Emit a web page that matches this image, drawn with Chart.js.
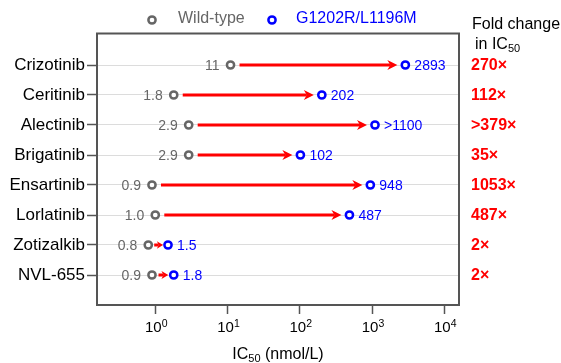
<!DOCTYPE html>
<html>
<head>
<meta charset="utf-8">
<script src="https://cdn.jsdelivr.net/npm/chart.js@4/dist/chart.umd.min.js"></script>
<style>
  html, body { margin: 0; padding: 0; background: #fff; }
  #wrap { width: 561px; height: 363px; }
</style>
</head>
<body>
<div id="wrap"><canvas id="c" width="561" height="363"></canvas></div>
<script>
// IC50 values (nmol/L) for each ALK inhibitor
const drugs = ['Crizotinib', 'Ceritinib', 'Alectinib', 'Brigatinib', 'Ensartinib', 'Lorlatinib', 'Zotizalkib', 'NVL-655'];
const wildType = [11, 1.8, 2.9, 2.9, 0.9, 1.0, 0.8, 0.9];
const mutant = [2893, 202, 1100, 102, 948, 487, 1.5, 1.8];
const wildTypeLabels = ['11', '1.8', '2.9', '2.9', '0.9', '1.0', '0.8', '0.9'];
const mutantLabels = ['2893', '202', '>1100', '102', '948', '487', '1.5', '1.8'];
const foldChange = ['270×', '112×', '>379×', '35×', '1053×', '487×', '2×', '2×'];
const xTicks = [1, 10, 100, 1000, 10000];
const xTickExponents = ['0', '1', '2', '3', '4'];
const seriesNames = ['Wild-type', 'G1202R/L1196M'];

const FONT = '"Liberation Sans", Arial, Helvetica, sans-serif';
const GRAY = '#666666';
const BLUE = '#0000ff';
const RED = '#ff0000';
const AXIS = '#555555';

Chart.defaults.font.family = FONT;

function drawArrow(ctx, x1, x2, y) {
  const len = x2 - x1;
  const head = Math.min(10, len * 0.7);
  const half = Math.min(5, head * 0.6);
  const notch = head * 0.3;
  ctx.save();
  ctx.strokeStyle = RED;
  ctx.fillStyle = RED;
  ctx.lineWidth = 3;
  ctx.beginPath();
  ctx.moveTo(x1, y);
  ctx.lineTo(x2 - head + notch, y);
  ctx.stroke();
  ctx.beginPath();
  ctx.moveTo(x2, y);
  ctx.lineTo(x2 - head, y - half);
  ctx.lineTo(x2 - head + notch, y);
  ctx.lineTo(x2 - head, y + half);
  ctx.closePath();
  ctx.fill();
  ctx.restore();
}

function subscriptText(ctx, parts, x, y, align) {
  // parts: [{t, size, bold, dy}]
  let total = 0;
  parts.forEach(p => {
    ctx.font = (p.bold ? 'bold ' : '') + p.size + 'px ' + FONT;
    p.w = ctx.measureText(p.t).width;
    total += p.w;
  });
  let cx = align === 'center' ? x - total / 2 : x;
  ctx.textAlign = 'left';
  parts.forEach(p => {
    ctx.font = (p.bold ? 'bold ' : '') + p.size + 'px ' + FONT;
    ctx.fillText(p.t, cx, y + (p.dy || 0));
    cx += p.w;
  });
}

const decorations = {
  id: 'decorations',
  beforeDatasetsDraw(chart) {
    const ctx = chart.ctx;
    const wt = chart.getDatasetMeta(0).data;
    const mt = chart.getDatasetMeta(1).data;
    for (let i = 0; i < drugs.length; i++) {
      const a = wt[i].x, b = mt[i].x, y = wt[i].y;
      const span = b - a;
      const g1 = Math.min(9, span * 0.3);
      const g2 = Math.min(8, span * 0.25);
      drawArrow(ctx, a + g1, b - g2, y);
    }
  },
  afterDraw(chart) {
    const ctx = chart.ctx;
    const area = chart.chartArea;
    const xs = chart.scales.x;
    const wt = chart.getDatasetMeta(0).data;
    const mt = chart.getDatasetMeta(1).data;

    // frame: top and right edges
    ctx.save();
    ctx.strokeStyle = AXIS;
    ctx.lineWidth = 2;
    ctx.beginPath();
    ctx.moveTo(area.left - 1, area.top);
    ctx.lineTo(area.right, area.top);
    ctx.lineTo(area.right, area.bottom + 1);
    ctx.stroke();

    // value labels
    ctx.textBaseline = 'middle';
    ctx.font = '14px ' + FONT;
    for (let i = 0; i < drugs.length; i++) {
      ctx.fillStyle = GRAY;
      ctx.textAlign = 'right';
      ctx.fillText(wildTypeLabels[i], wt[i].x - 11, wt[i].y + 1);
      ctx.fillStyle = BLUE;
      ctx.textAlign = 'left';
      ctx.fillText(mutantLabels[i], mt[i].x + 9, mt[i].y + 1);
    }

    // fold change column
    ctx.fillStyle = RED;
    ctx.font = 'bold 16px ' + FONT;
    ctx.textAlign = 'left';
    for (let i = 0; i < drugs.length; i++) {
      ctx.fillText(foldChange[i], area.right + 12, wt[i].y + 1);
    }
    ctx.textBaseline = 'alphabetic';
    ctx.fillStyle = '#000';
    ctx.font = '16px ' + FONT;
    ctx.fillText('Fold change', area.right + 13, 29);
    subscriptText(ctx, [
      { t: 'in IC', size: 16 },
      { t: '50', size: 11, dy: 3 }
    ], area.right + 16, 49, 'left');

    // x tick labels as powers of ten
    ctx.fillStyle = '#000';
    xTicks.forEach((v, k) => {
      const px = xs.getPixelForValue(v);
      subscriptText(ctx, [
        { t: '10', size: 15 },
        { t: xTickExponents[k], size: 10.5, dy: -5 }
      ], px + 1, 332, 'center');
    });

    // x axis title
    subscriptText(ctx, [
      { t: 'IC', size: 16 },
      { t: '50', size: 11, dy: 3 },
      { t: ' (nmol/L)', size: 16 }
    ], (area.left + area.right) / 2, 359, 'center');

    // legend
    const ly = 20;
    const items = [
      { x: 152, color: GRAY, text: seriesNames[0], tx: 178 },
      { x: 272, color: BLUE, text: seriesNames[1], tx: 296 }
    ];
    items.forEach(it => {
      ctx.beginPath();
      ctx.arc(it.x, ly, 3.6, 0, Math.PI * 2);
      ctx.fillStyle = '#fff';
      ctx.fill();
      ctx.lineWidth = 2.5;
      ctx.strokeStyle = it.color;
      ctx.stroke();
      ctx.fillStyle = it.color;
      ctx.font = '16px ' + FONT;
      ctx.textBaseline = 'middle';
      ctx.textAlign = 'left';
      ctx.fillText(it.text, it.tx, ly - 1);
    });
    ctx.restore();
  }
};

new Chart(document.getElementById('c'), {
  type: 'scatter',
  data: {
    datasets: [
      {
        label: seriesNames[0],
        data: wildType.map((v, i) => ({ x: v, y: i })),
        borderColor: GRAY,
        backgroundColor: '#fff',
        pointRadius: 3.6,
        pointBorderWidth: 2.5,
        pointHoverRadius: 3.6
      },
      {
        label: seriesNames[1],
        data: mutant.map((v, i) => ({ x: v, y: i })),
        borderColor: BLUE,
        backgroundColor: '#fff',
        pointRadius: 3.6,
        pointBorderWidth: 2.5,
        pointHoverRadius: 3.6
      }
    ]
  },
  options: {
    responsive: false,
    animation: false,
    devicePixelRatio: 1,
    layout: { padding: { top: 33.5, right: 102, left: 0, bottom: 0 } },
    plugins: {
      legend: { display: false },
      tooltip: { enabled: false }
    },
    scales: {
      x: {
        type: 'logarithmic',
        position: 'bottom',
        min: 0.156,
        max: 16000,
        afterBuildTicks: s => { s.ticks = xTicks.map(v => ({ value: v })); },
        ticks: { callback: () => '' },
        grid: {
          drawOnChartArea: false,
          drawTicks: true,
          tickLength: 9,
          tickColor: AXIS,
          tickWidth: 1.5
        },
        border: { color: AXIS, width: 2 },
        afterFit: s => { s.height = 58; }
      },
      y: {
        type: 'linear',
        position: 'left',
        reverse: true,
        min: -1.05,
        max: 8.0,
        afterBuildTicks: s => { s.ticks = drugs.map((_, i) => ({ value: i })); },
        ticks: {
          callback: v => drugs[v],
          color: '#000',
          font: { size: 17, family: FONT },
          padding: 2
        },
        grid: {
          color: '#dcdcdc',
          lineWidth: 1,
          tickColor: AXIS,
          tickLength: 10,
          tickWidth: 1.5
        },
        border: { color: AXIS, width: 2 },
        afterFit: s => { s.width = 97; }
      }
    }
  },
  plugins: [decorations]
});
</script>
</body>
</html>
